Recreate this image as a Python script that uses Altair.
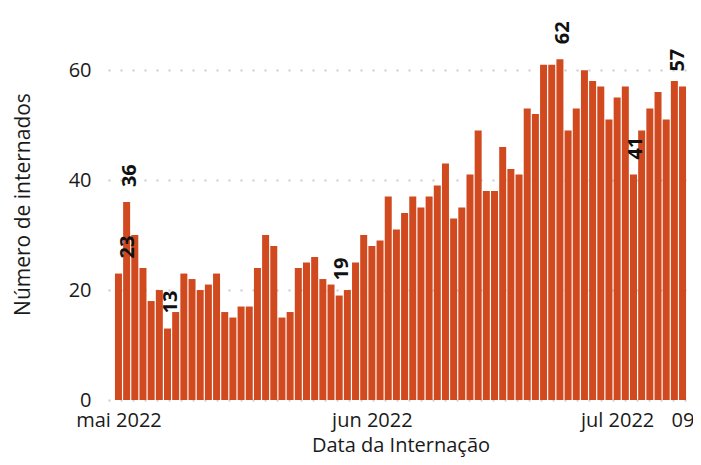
import altair as alt
import pandas as pd

dates = pd.date_range("2022-05-01", "2022-07-09", freq="D").strftime("%Y-%m-%d").tolist()
values = [23, 36, 30, 24, 18, 20, 13, 16, 23, 22, 20, 21, 23, 16, 15, 17, 17, 24, 30, 28, 15, 16, 24,
          25, 26, 22, 21, 19, 20, 25, 30, 28, 29, 37, 31, 34, 37, 35, 37, 39, 43, 33, 35, 41, 49, 38,
          38, 46, 42, 41, 53, 52, 61, 61, 62, 49, 53, 60, 58, 57, 51, 55, 57, 41, 49, 53, 56, 51, 58, 57]
label_idx_main = [1, 6, 27, 54, 63]
label_idx_first = [0]
label_idx_last = [69]

months_pt = "['jan','fev','mar','abr','mai','jun','jul','ago','set','out','nov','dez']"

df = pd.DataFrame({"date": dates, "n": values})

def lab_df(idx):
    return pd.DataFrame({"date": [dates[i] for i in idx], "n": [values[i] for i in idx]})

FONT = "Open Sans"

x_enc = alt.X(
    "date:T",
    title="Data da Internação",
    scale=alt.Scale(
        type="utc",
        domain=[alt.DateTime(year=2022, month=4, date=30, hours=8, utc=True),
                alt.DateTime(year=2022, month=7, date=9, hours=16, utc=True)],
    ),
    axis=alt.Axis(
        values=[alt.DateTime(year=2022, month=5, date=1, utc=True),
                alt.DateTime(year=2022, month=6, date=1, utc=True),
                alt.DateTime(year=2022, month=7, date=1, utc=True),
                alt.DateTime(year=2022, month=7, date=9, utc=True)],
        labelExpr=f"utcdate(datum.value) == 1 ? {months_pt}[utcmonth(datum.value)] + ' ' + utcyear(datum.value) : utcFormat(datum.value, '%d')",
        grid=False, domain=False, ticks=False,
        labelPadding=10, titlePadding=5,
        labelFontSize=20, titleFontSize=20,
        labelColor="#1a1a1a", titleColor="#1a1a1a",
        labelFont=FONT, titleFont=FONT, titleFontWeight="normal",
        labelOverlap=False, labelFlush=False,
    ),
)
y_enc = alt.Y(
    "n:Q",
    title="Número de internados",
    scale=alt.Scale(domain=[0, 71.3], nice=False),
    axis=alt.Axis(
        values=[0, 20, 40, 60],
        domain=False, ticks=False,
        grid=True, gridDash=[2, 10], gridColor="#cccccc", gridWidth=2,
        labelPadding=17, titlePadding=35,
        labelFontSize=20, titleFontSize=21,
        labelColor="#1a1a1a", titleColor="#1a1a1a",
        labelFont=FONT, titleFont=FONT, titleFontWeight="normal",
    ),
)

bars = alt.Chart(df).mark_bar(color="#D1491E", width=7).encode(x=x_enc, y=y_enc)

def text_layer(idx, dy):
    return alt.Chart(lab_df(idx)).mark_text(
        angle=270, align="left", baseline="middle", dx=15, dy=dy,
        font=FONT, fontWeight="bold", fontSize=20, color="#111111",
    ).encode(x="date:T", y="n:Q", text="n:Q")

chart = alt.layer(
    bars,
    text_layer(label_idx_main, 3),
    text_layer(label_idx_first, 9.5),
    text_layer(label_idx_last, -4.5),
).properties(
    width=585, height=392,
    autosize=alt.AutoSizeParams(type="none"),
    padding={"left": 100, "top": 0, "right": 0, "bottom": 57},
    background="white",
).configure_view(stroke=None)

chart.save("out.html", embed_options={"renderer": "svg", "actions": False})
